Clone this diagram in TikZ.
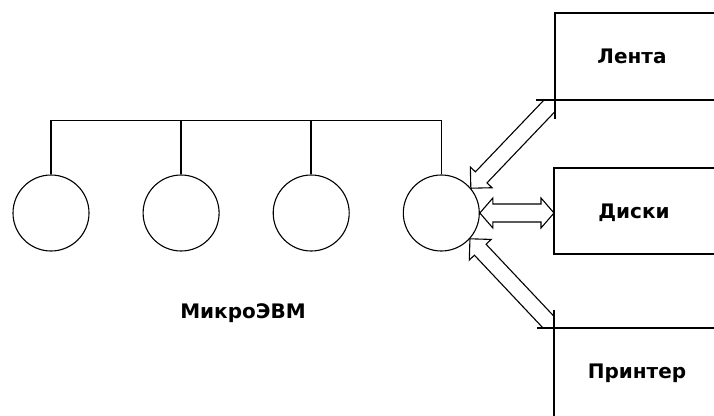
\documentclass[tikz,border=0pt]{standalone}
\usepackage{fontspec}
\setmainfont{DejaVu Sans}
\usepackage{tikz}
\usetikzlibrary{positioning, calc}

% hollow arrow: #1 tip, #2 device corner, #3 line met by the +90 side, #4 line met by the -90 side
\newcommand{\sidearrow}[4]{%
  \coordinate (hb) at ($(#1)!15pt!(#2)$);
  \coordinate (pa) at ($(hb)!8pt!90:(#1)$);
  \coordinate (pb) at ($(#2)!8pt!90:(#1)$);
  \coordinate (qa) at ($(hb)!8pt!-90:(#1)$);
  \coordinate (qb) at ($(#2)!8pt!-90:(#1)$);
  \draw[fatline] (intersection of pa--pb and #3) -- (pa)
    -- ($(hb)!15pt!90:(#1)$) -- (#1) -- ($(hb)!15pt!-90:(#1)$)
    -- (qa) -- (intersection of qa--qb and #4);
}

\begin{document}
\begin{tikzpicture}[x=1pt, y=-1pt,
    evm/.style={draw, circle, minimum size=76pt, inner sep=0pt, line width=1.1pt},
    label/.style={anchor=base, inner sep=0pt, font=\bfseries\fontsize{20}{24}\selectfont},
    busline/.style={line width=1.6pt},
    boxline/.style={line width=1.6pt},
    fatline/.style={line width=1.1pt, line join=miter},
    node distance=53pt]
  \useasboundingbox (0,0) rectangle (714,415);
  \clip (0,0) rectangle (714,415);

  % microcomputers on the bus
  \node[evm] (m1) at (51,213) {};
  \node[evm, right=of m1] (m2) {};
  \node[evm, right=of m2] (m3) {};
  \node[evm, right=of m3] (m4) {};
  \node[label] (evmtxt) at (243,318) {МикроЭВМ};

  \coordinate (busL) at ($(m1.north)+(0,-54)$);
  \draw[busline] (m1.north) -- (busL) -| (m4.north);
  \draw[busline] (m2.north) -- (m2.north |- busL);
  \draw[busline] (m3.north) -- (m3.north |- busL);

  % devices
  \coordinate (lnw) at (555,13);
  \coordinate (lsw) at (555,100);
  \coordinate (lsh) at (536,100);
  \coordinate (lsv) at (555,119);
  \draw[boxline] (716,13) -- (lnw) -- (lsv);
  \draw[boxline] (lsh) -- (716,100);
  \node[label] (lenta) at (632,63) {Лента};

  \coordinate (dnw) at (554,168);
  \coordinate (dsw) at (554,254);
  \draw[boxline] (716,168) -- (dnw) -- (dsw) -- (716,254);
  \node[label] (diski) at (634,218) {Диски};

  \coordinate (pnw) at (554,328);
  \coordinate (pnh) at (537,328);
  \coordinate (pnv) at (554,310);
  \draw[boxline] (pnh) -- (716,328);
  \draw[boxline] (pnv) -- (554,420);
  \node[label] (printer) at (637,378) {Принтер};

  % links
  \sidearrow{m4.40}{lsw}{lsw--lsv}{lsw--lsh}
  \sidearrow{m4.-42}{pnw}{pnw--pnh}{pnw--pnv}

  \coordinate (dl) at (m4.east);
  \coordinate (dr) at (m4.east -| dnw);
  \coordinate (lb) at ($(dl)!13pt!(dr)$);
  \coordinate (rb) at ($(dr)!13pt!(dl)$);
  \draw[fatline] (dl) -- ($(lb)!15pt!90:(dr)$) -- ($(lb)!9pt!90:(dr)$)
    -- ($(rb)!9pt!-90:(dl)$) -- ($(rb)!15pt!-90:(dl)$) -- (dr)
    -- ($(rb)!15pt!90:(dl)$) -- ($(rb)!9pt!90:(dl)$)
    -- ($(lb)!9pt!-90:(dr)$) -- ($(lb)!15pt!-90:(dr)$) -- cycle;
\end{tikzpicture}
\end{document}
